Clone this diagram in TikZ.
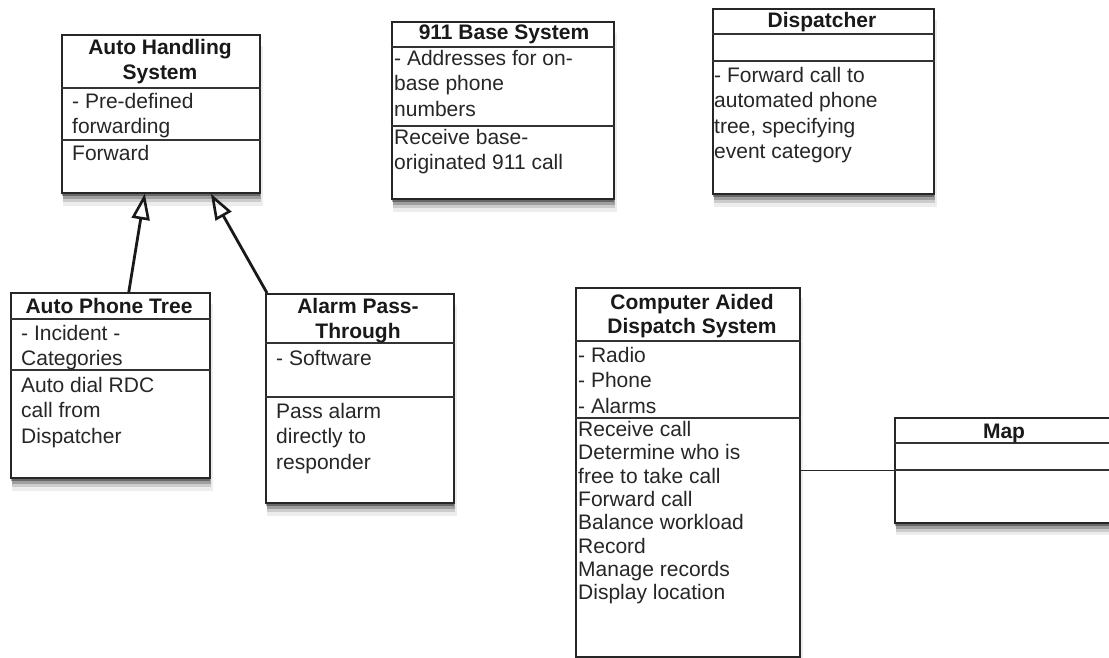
\documentclass[tikz,border=0pt]{standalone}
\usepackage{fontspec}
\setmainfont{Liberation Sans}
\usetikzlibrary{arrows.meta,shadows,calc}
\newcommand\umlclass[5]{\node[umlbox, minimum width=#4, minimum height=#5] (#1) at (#2,#3) {};}
\newcommand\umldiv[2]{\draw[divider] ($(#1.north west)+(0,#2)$) -- ($(#1.north east)+(0,#2)$);}
\begin{document}
\begin{tikzpicture}[x=1pt,y=-1pt,
  shadowed/.style={
    drop shadow={shadow xshift=0pt,shadow yshift=-3pt,opacity=.35,fill=black},
    drop shadow={shadow xshift=1pt,shadow yshift=-6pt,opacity=.22,fill=black},
    drop shadow={shadow xshift=1.5pt,shadow yshift=-9pt,opacity=.14,fill=black},
    drop shadow={shadow xshift=2pt,shadow yshift=-12pt,shadow scale=1.01,opacity=.07,fill=black}},
  umlbox/.style={draw=black!85, line width=1.6pt, fill=white, rectangle, inner sep=0pt, anchor=north west, shadowed},
  divider/.style={draw=black!80, line width=1.3pt},
  ttl/.style={font=\fontsize{21}{25.5}\selectfont\bfseries, align=center, inner sep=0pt, anchor=north, text=black!90},
  txt/.style={font=\fontsize{21}{25.5}\selectfont, align=left, inner sep=0pt, anchor=north west, text=black!85},
  txtb/.style={txt, font=\fontsize{21}{23.3}\selectfont},
  inherit/.style={line width=2.8pt, draw=black!90, -{Triangle[open,length=26pt,width=18pt,line width=2.6pt]}}
]
\useasboundingbox (0,0) rectangle (1109,658);

% Auto Handling System
\umlclass{ahs}{61}{34}{198}{158}
\umldiv{ahs}{54}
\umldiv{ahs}{106}
\node[ttl] (ahsT) at (160,36) {\strut Auto Handling\\System};
\node[txt] (ahsA) at (72,90) {\strut - Pre-defined\\forwarding};
\node[txt] (ahsO) at (72,142) {\strut Forward};

% 911 Base System
\umlclass{base}{391}{21}{222}{177}
\umldiv{base}{26}
\umldiv{base}{105}
\node[ttl] (baseT) at (504,21) {\strut 911 Base System};
\node[txt] (baseA) at (394,47) {\strut - Addresses for on-\\base phone\\numbers};
\node[txt] (baseO) at (394,126) {\strut Receive base-\\originated 911 call};

% Dispatcher
\umlclass{disp}{712}{8}{221}{185}
\umldiv{disp}{26}
\umldiv{disp}{53}
\node[ttl] (dispT) at (822,9) {\strut Dispatcher};
\node[txt] (dispO) at (714,64) {\strut - Forward call to\\automated phone\\tree, specifying\\event category};

% Auto Phone Tree
\umlclass{apt}{10}{292}{199}{185}
\umldiv{apt}{27}
\umldiv{apt}{78}
\node[ttl] (aptT) at (109,295) {\strut Auto Phone Tree};
\node[txt] (aptA) at (21,322) {\strut - Incident -\\Categories};
\node[txt] (aptO) at (21,374) {\strut Auto dial RDC\\call from\\Dispatcher};

% Alarm Pass-Through
\umlclass{alarm}{265}{293}{188}{209}
\umldiv{alarm}{50}
\umldiv{alarm}{104}
\node[ttl] (alarmT) at (358,295) {\strut Alarm Pass-\\Through};
\node[txt] (alarmA) at (276,347) {\strut - Software};
\node[txt] (alarmO) at (276,400) {\strut Pass alarm\\directly to\\responder};

% Computer Aided Dispatch System
\umlclass{cad}{575}{287}{224}{369}
\umldiv{cad}{54}
\umldiv{cad}{131}
\node[ttl, font=\fontsize{21}{23.6}\selectfont\bfseries] (cadT) at (692,293) {\strut Computer Aided\\Dispatch System};
\node[txt] (cadA) at (578,344) {\strut - Radio\\- Phone\\- Alarms};
\node[txtb] (cadO) at (578,420) {\strut Receive call\\Determine who is\\free to take call\\Forward call\\Balance workload\\Record\\Manage records\\Display location};

% Map
\umlclass{map}{894}{417}{220}{105}
\umldiv{map}{26}
\umldiv{map}{53}
\node[ttl] (mapT) at (1004,420) {\strut Map};

% connectors
\draw[line width=1.3pt, draw=black!85] (map.west) -- (map.west -| cad.east);
\draw[inherit] ([xshift=18.5pt]apt.north) -- ([xshift=-16pt]ahs.south);
\draw[inherit] ([xshift=2pt]alarm.north west) -- ([xshift=50pt]ahs.south);
\end{tikzpicture}
\end{document}
